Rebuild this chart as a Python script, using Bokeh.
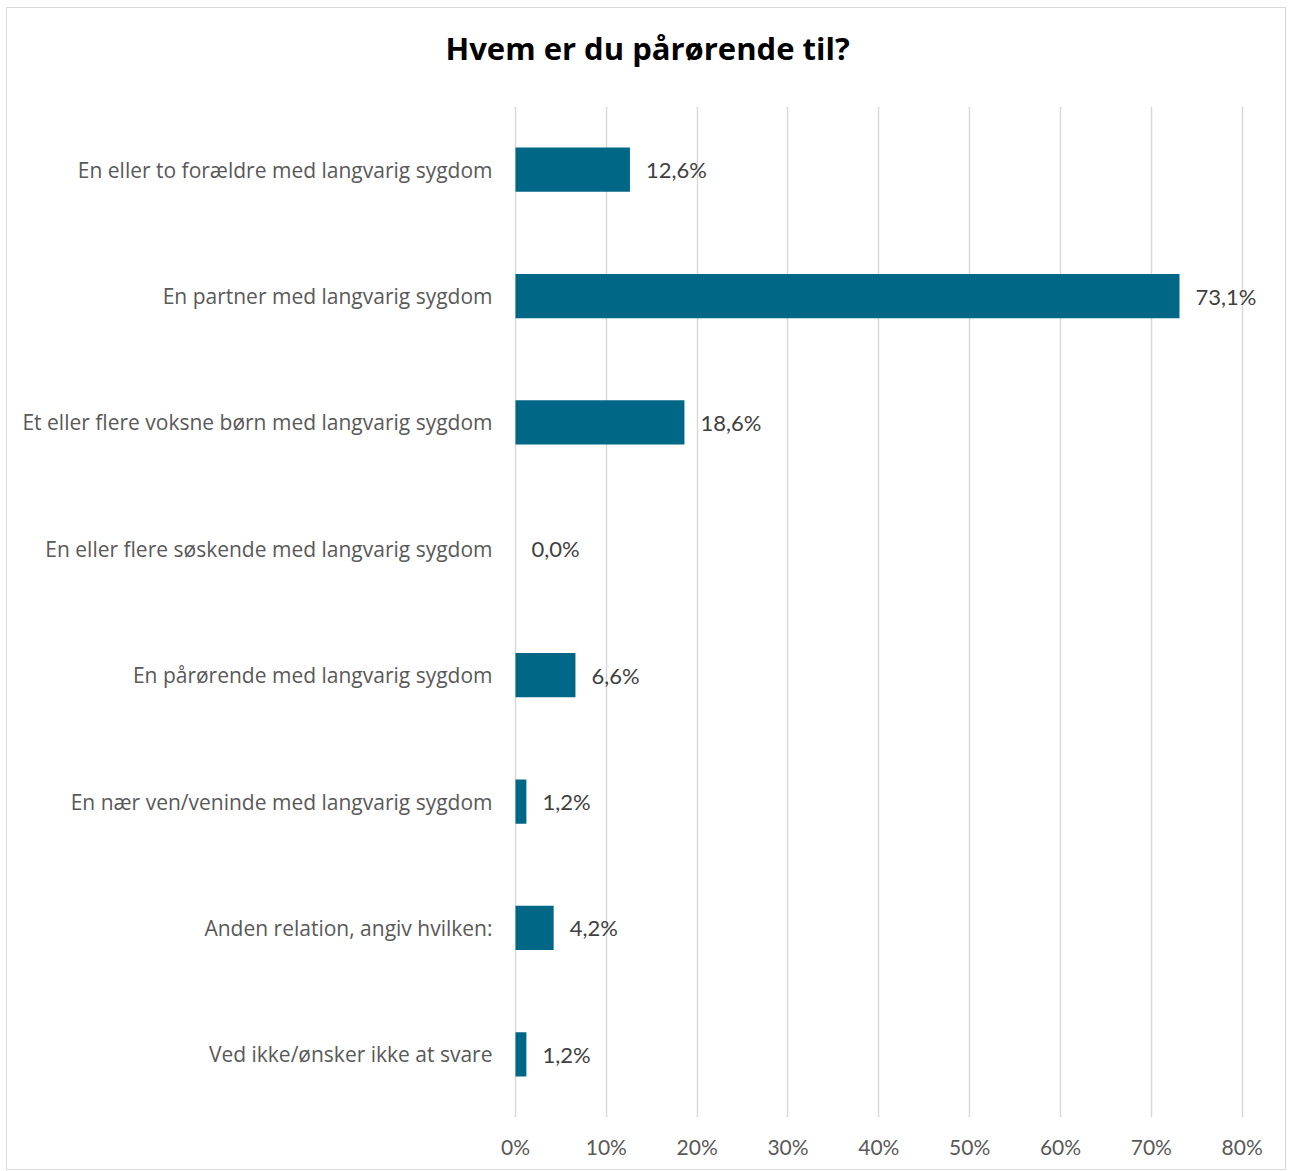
from bokeh.plotting import figure
from bokeh.models import ColumnDataSource, FactorRange, FixedTicker, Range1d, Title
from bokeh.embed import file_html
from bokeh.resources import INLINE

title_text = "Hvem er du pårørende til?"
categories = [
    "En eller to forældre med langvarig sygdom",
    "En partner med langvarig sygdom",
    "Et eller flere voksne børn med langvarig sygdom",
    "En eller flere søskende med langvarig sygdom",
    "En pårørende med langvarig sygdom",
    "En nær ven/veninde med langvarig sygdom",
    "Anden relation, angiv hvilken:",
    "Ved ikke/ønsker ikke at svare",
]
values = [0.126, 0.731, 0.186, 0.0, 0.066, 0.012, 0.042, 0.012]
value_labels = ["12,6%", "73,1%", "18,6%", "0,0%", "6,6%", "1,2%", "4,2%", "1,2%"]
tick_values = [0, 0.1, 0.2, 0.3, 0.4, 0.5, 0.6, 0.7, 0.8]
tick_labels = {0: "0%", 0.1: "10%", 0.2: "20%", 0.3: "30%", 0.4: "40%",
               0.5: "50%", 0.6: "60%", 0.7: "70%", 0.8: "80%"}

src = ColumnDataSource(dict(cat=categories, val=values, lab=value_labels))

p = figure(
    width=1280, height=1163,
    y_range=FactorRange(*list(reversed(categories)), range_padding=0),
    x_range=Range1d(-0.0022, 0.84),
    output_backend="svg", toolbar_location=None,
    min_border_left=506, min_border_right=9, min_border_top=98, min_border_bottom=54,
)
p.styles = {"border": "1px solid #d9d9d9", "margin-left": "6px", "margin-top": "7px"}
p.outline_line_color = None
p.background_fill_color = "white"

# spacer panel between the title and the plot area
p.add_layout(Title(text=" ", text_font_size="1px", standoff=25), "above")

p.title.text = title_text
p.title.align = "left"
p.title.offset = -68
p.title.standoff = 20
p.title.text_font = "Open Sans"
p.title.text_font_style = "bold"
p.title.text_font_size = "31px"
p.title.text_color = "#000000"

p.hbar(y="cat", right="val", left=0, height=0.35, source=src,
       fill_color="#006787", line_color=None)

p.text(x="val", y="cat", text="lab", source=src, x_offset=16,
       text_baseline="middle", text_align="left",
       text_font_size="22px", text_color="#404040", text_font={"value": "Lato"})

p.xaxis.ticker = FixedTicker(ticks=tick_values)
p.xaxis.major_label_overrides = tick_labels
p.xaxis.axis_line_color = None
p.xaxis.major_tick_line_color = None
p.xaxis.minor_tick_line_color = None
p.xaxis.major_label_standoff = 10
p.xaxis.major_label_text_font = "Lato"
p.xaxis.major_label_text_font_size = "21px"
p.xaxis.major_label_text_color = "#595959"

p.yaxis.axis_line_color = None
p.yaxis.major_tick_line_color = None
p.yaxis.minor_tick_line_color = None
p.yaxis.major_label_standoff = 15
p.yaxis.major_label_text_font = "Open Sans"
p.yaxis.major_label_text_font_size = "21px"
p.yaxis.major_label_text_color = "#595959"

p.xgrid.ticker = FixedTicker(ticks=tick_values)
p.xgrid.grid_line_color = "#d9d9d9"
p.xgrid.grid_line_width = 1.5
p.ygrid.grid_line_color = None

open("out.html", "w").write(file_html(p, INLINE))
